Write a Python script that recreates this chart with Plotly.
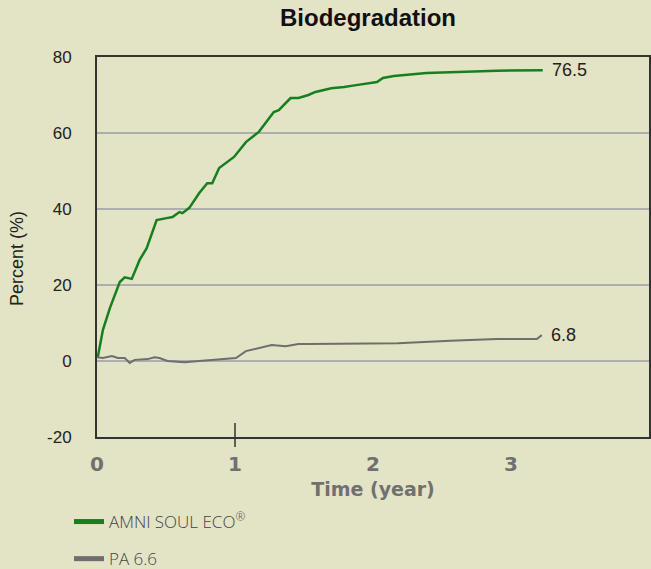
import plotly.graph_objects as go

# ---- data ----
eco_t = [0, 0.007, 0.043, 0.094, 0.165, 0.201, 0.252, 0.309, 0.36, 0.396, 0.432, 0.504, 0.547,
         0.597, 0.619, 0.669, 0.741, 0.799, 0.835, 0.885, 0.935, 0.993, 1.079, 1.173, 1.281,
         1.317, 1.403, 1.46, 1.532, 1.583, 1.698, 1.791, 1.878, 2.029, 2.072, 2.151, 2.388,
         2.597, 2.899, 3.23]
eco_v = [1.5, 1.3, 8.2, 14.0, 20.8, 22.0, 21.6, 26.6, 29.7, 33.7, 37.1, 37.6, 37.9,
         39.2, 38.9, 40.3, 44.2, 46.8, 46.8, 50.8, 52.1, 53.7, 57.6, 60.3, 65.5,
         66.0, 69.2, 69.2, 70.0, 70.8, 71.8, 72.1, 72.6, 73.4, 74.5, 75.0, 75.8,
         76.1, 76.4, 76.5]

pa_t = [0, 0.043, 0.108, 0.151, 0.201, 0.237, 0.273, 0.367, 0.417, 0.453, 0.511, 0.633,
        0.741, 0.935, 1.007, 1.079, 1.173, 1.266, 1.367, 1.46, 1.532, 1.82, 2.18, 2.561,
        2.899, 3.187, 3.223]
pa_v = [1.0, 0.8, 1.3, 0.8, 0.8, -0.5, 0.3, 0.5, 1.0, 0.8, 0.0, -0.3,
        0.0, 0.5, 0.8, 2.6, 3.4, 4.2, 3.9, 4.5, 4.5, 4.6, 4.7, 5.3,
        5.8, 5.8, 6.8]

series_names = ["AMNI SOUL ECO<sup>®</sup>", "PA 6.6"]
end_labels = ["76.5", "6.8"]
x_ticks = [0, 1, 2, 3, 4]
y_ticks = [-20, 0, 20, 40, 60, 80]
y_tick_text = ["-20", "0", "20", "40", "60", "80"]
y_title = "Percent (%)"

GREEN = "#16801e"
GRAY = "#6e6e6e"
BG = "#e3e3c6"
AXGRAY = "#707070"

fig = go.Figure()
for t, v, c, w, lbl in [(eco_t, eco_v, GREEN, 2.5, end_labels[0]),
                        (pa_t, pa_v, GRAY, 2.0, end_labels[1])]:
    fig.add_trace(go.Scatter(x=t, y=v, mode="lines", line=dict(color=c, width=w),
                             showlegend=False, hoverinfo="skip"))
    fig.add_annotation(x=t[-1], y=v[-1], text=lbl, showarrow=False, xanchor="left",
                       yanchor="middle", xshift=7,
                       font=dict(family="Liberation Sans, Arial", size=18, color="#222"))

# legend entries
for i, (name, c) in enumerate(zip(series_names, [GREEN, GRAY])):
    fig.add_trace(go.Scatter(x=[None], y=[None], mode="lines", name=name,
                             line=dict(color=c, width=5), legendgroup=str(i)))

# single tick mark at x = 1
fig.add_shape(type="line", xref="x", yref="paper", x0=1, x1=1, y0=-0.026, y1=0.037,
              line=dict(color="#333", width=1.5))

# y axis title as rotated text
fig.add_annotation(text=y_title, xref="paper", yref="paper", x=-0.145, y=0.471,
                   textangle=-90, showarrow=False, xanchor="center", yanchor="middle",
                   font=dict(family="Liberation Sans, Arial", size=18, color="#222"))

fig.update_layout(
    width=651, height=569, autosize=False,
    margin=dict(l=97, r=2, t=57, b=132, autoexpand=False),
    paper_bgcolor=BG, plot_bgcolor=BG,
    title=dict(text="<b>Biodegradation</b>", x=368 / 651, xanchor="center",
               y=1 - 18 / 569, yanchor="middle", yref="container",
               font=dict(family="Liberation Sans, Arial", size=24, color="#111")),
    xaxis=dict(range=[0, 4], tickvals=x_ticks, showgrid=False, zeroline=False,
               showline=True, linecolor="#333", linewidth=2, mirror=True,
               ticks="", ticklabelstandoff=8,
               tickfont=dict(family="DejaVu Sans", size=20, color=AXGRAY, weight="bold"),
               title=dict(text="Time (year)", standoff=8,
                          font=dict(family="DejaVu Sans", size=19, color=AXGRAY, weight="bold"))),
    yaxis=dict(range=[-20, 80], tickvals=y_ticks, ticktext=y_tick_text,
               showgrid=True, gridcolor="#aeaeae", gridwidth=1.5, zeroline=False,
               showline=True, linecolor="#333", linewidth=2, mirror=True,
               ticks="", ticklabelstandoff=20,
               tickfont=dict(family="Liberation Sans, Arial", size=17, color="#222")),
    legend=dict(x=69 / 651, y=1 - 504 / 569, xref="container", yref="container",
                xanchor="left", yanchor="top",
                bgcolor="rgba(0,0,0,0)", tracegroupgap=12,
                font=dict(family="Open Sans", size=17, color="#444", weight=300)),
)

fig.write_html("out.html",
               config={"displayModeBar": False},
               post_script="document.body.style.margin='0';document.body.style.padding='0';"
                           "document.body.style.background='#e3e3c6';"
                           "document.body.style.overflow='hidden';")
